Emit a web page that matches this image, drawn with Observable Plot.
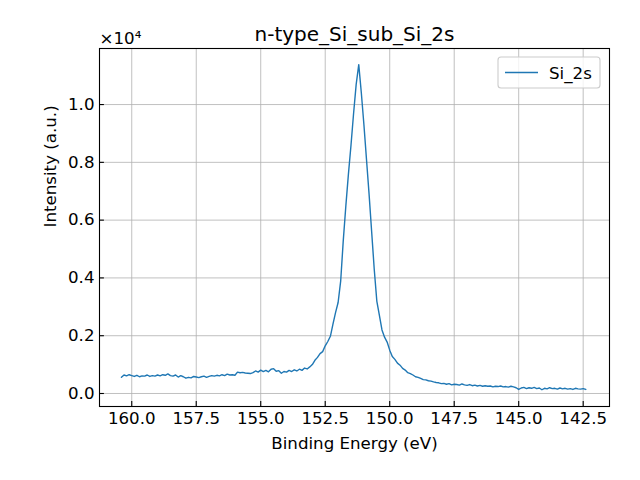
<!DOCTYPE html>
<html>
<head>
<meta charset="utf-8">
<script src="https://cdn.jsdelivr.net/npm/d3@7"></script>
<script src="https://cdn.jsdelivr.net/npm/@observablehq/plot@0.6"></script>
<style>
  html, body { margin: 0; padding: 0; background: white; }
  #chart { width: 640px; height: 480px; }
</style>
</head>
<body>
<div id="chart"></div>
<script>
const chartTitle = "n-type_Si_sub_Si_2s";
const seriesName = "Si_2s";
const xLabel = "Binding Energy (eV)";
const yLabel = "Intensity (a.u.)";
const offsetLabel = "×10⁴";

const xTicks = [160.0, 157.5, 155.0, 152.5, 150.0, 147.5, 145.0, 142.5];
const yTicks = [0, 2000, 4000, 6000, 8000, 10000];

// Binding energy (eV), 160.4 → 142.4 in 0.1 eV steps
const energy = [
160.4,160.3,160.2,160.1,160.0,159.9,159.8,159.7,159.6,159.5,
159.4,159.3,159.2,159.1,159.0,158.9,158.8,158.7,158.6,158.5,
158.4,158.3,158.2,158.1,158.0,157.9,157.8,157.7,157.6,157.5,
157.4,157.3,157.2,157.1,157.0,156.9,156.8,156.7,156.6,156.5,
156.4,156.3,156.2,156.1,156.0,155.9,155.8,155.7,155.6,155.5,
155.4,155.3,155.2,155.1,155.0,154.9,154.8,154.7,154.6,154.5,
154.4,154.3,154.2,154.1,154.0,153.9,153.8,153.7,153.6,153.5,
153.4,153.3,153.2,153.1,153.0,152.9,152.8,152.7,152.6,152.5,
152.4,152.3,152.2,152.1,152.0,151.9,151.8,151.7,151.6,151.5,
151.4,151.3,151.2,151.1,151.0,150.9,150.8,150.7,150.6,150.5,
150.4,150.3,150.2,150.1,150.0,149.9,149.8,149.7,149.6,149.5,
149.4,149.3,149.2,149.1,149.0,148.9,148.8,148.7,148.6,148.5,
148.4,148.3,148.2,148.1,148.0,147.9,147.8,147.7,147.6,147.5,
147.4,147.3,147.2,147.1,147.0,146.9,146.8,146.7,146.6,146.5,
146.4,146.3,146.2,146.1,146.0,145.9,145.8,145.7,145.6,145.5,
145.4,145.3,145.2,145.1,145.0,144.9,144.8,144.7,144.6,144.5,
144.4,144.3,144.2,144.1,144.0,143.9,143.8,143.7,143.6,143.5,
143.4,143.3,143.2,143.1,143.0,142.9,142.8,142.7,142.6,142.5,
142.4
];

// Intensity (a.u.)
const intensity = [
560,640,610,650,620,590,630,580,610,600,
640,590,620,600,640,610,650,630,680,620,
600,640,570,620,580,530,560,540,590,570,
550,580,600,560,590,620,600,630,610,650,
620,670,640,650,630,740,720,730,710,700,
690,720,780,740,810,760,800,750,840,860,
770,790,700,760,740,800,760,820,780,840,
800,880,850,920,1000,1150,1250,1380,1450,1650,
1800,1980,2400,2800,3150,3900,5300,6500,7600,8600,
9700,10700,11380,10400,9300,8100,6900,5600,4300,3200,
2700,2200,1950,1780,1500,1280,1180,1050,980,870,
810,720,690,640,580,560,520,480,470,440,
430,400,380,370,340,350,320,340,300,320,
310,290,330,300,280,310,270,290,260,280,
250,270,250,260,230,250,240,260,230,240,
220,250,230,200,140,190,210,170,200,180,
210,170,190,130,180,160,200,170,180,150,
190,160,180,150,170,140,180,160,150,170,
140
];

const data = energy.map((e, i) => ({energy: e, intensity: intensity[i]}));

const W = 640, H = 480;
const mL = 99, mR = 31, mT = 48, mB = 74;
const frameW = W - mL - mR, frameH = H - mT - mB;
const tickLen = 4.9;
const lineColor = "#1f77b4";
const fontFamily = "'DejaVu Sans', sans-serif";

const chart = Plot.plot({
  width: W,
  height: H,
  marginLeft: mL,
  marginRight: mR,
  marginTop: mT,
  marginBottom: mB,
  style: {fontFamily, fontSize: "16.67px", color: "black", background: "white", overflow: "visible"},
  x: {domain: [161.25, 141.48], label: null},
  y: {domain: [-450, 11940], label: null},
  marks: [
    Plot.ruleX(xTicks, {x: d => d, stroke: "#b0b0b0", strokeWidth: 0.8}),
    Plot.ruleY(yTicks, {y: d => d, stroke: "#b0b0b0", strokeWidth: 0.8}),
    Plot.line(data, {x: "energy", y: "intensity", stroke: lineColor, strokeWidth: 1.4}),
    Plot.tickX(xTicks, {x: d => d, insetTop: frameH - tickLen, stroke: "black", strokeWidth: 1.1}),
    Plot.tickY(yTicks, {y: d => d, insetRight: frameW - tickLen, stroke: "black", strokeWidth: 1.1}),
    Plot.axisX({ticks: xTicks, tickFormat: d => d.toFixed(1), tickSize: 0, tickPadding: 6, label: null}),
    Plot.axisY({ticks: yTicks, tickFormat: d => (d / 1e4).toFixed(1), tickSize: 0, tickPadding: 5, label: null}),
    Plot.frame({stroke: "black", strokeWidth: 1.1}),
    Plot.text([chartTitle], {text: d => d, frameAnchor: "top", lineAnchor: "bottom", dy: -8, fontSize: 20, fill: "black"}),
    Plot.text([offsetLabel], {text: d => d, frameAnchor: "top-left", textAnchor: "start", lineAnchor: "bottom", dy: -5, fontSize: 16.67, fill: "black"}),
    Plot.text([xLabel], {text: d => d, frameAnchor: "bottom", lineAnchor: "bottom", dy: 42, fontSize: 16.67, fill: "black"}),
    Plot.text([yLabel], {text: d => d, frameAnchor: "left", lineAnchor: "bottom", rotate: -90, dx: -44, fontSize: 16.67, fill: "black"})
  ]
});

// Legend box in the upper-right corner of the frame
const svg = d3.select(chart);
const lgW = 102, lgH = 31;
const lgX = W - mR - 9 - lgW, lgY = mT + 9;
const g = svg.append("g").attr("class", "legend");
g.append("rect").attr("x", lgX).attr("y", lgY).attr("width", lgW).attr("height", lgH)
  .attr("rx", 3).attr("fill", "white").attr("fill-opacity", 0.8).attr("stroke", "#cccccc").attr("stroke-width", 1.1);
g.append("line").attr("x1", lgX + 7).attr("x2", lgX + 40).attr("y1", lgY + lgH / 2).attr("y2", lgY + lgH / 2)
  .attr("stroke", lineColor).attr("stroke-width", 1.4);
g.append("text").attr("x", lgX + 51).attr("y", lgY + lgH / 2 + 6).attr("font-size", 16.67)
  .attr("text-anchor", "start")
  .attr("font-family", fontFamily).attr("fill", "black").text(seriesName);

document.getElementById("chart").appendChild(chart);
</script>
</body>
</html>
